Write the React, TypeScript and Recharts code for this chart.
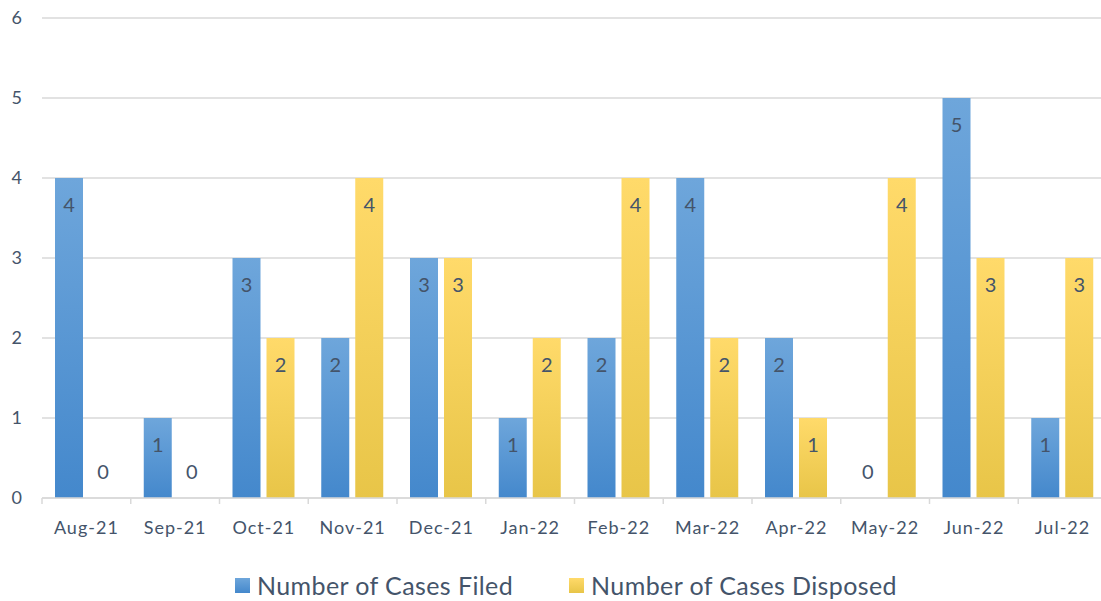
import { BarChart, Bar, XAxis, YAxis, CartesianGrid, Legend, LabelList, Rectangle } from 'recharts'

const months = ['Aug-21', 'Sep-21', 'Oct-21', 'Nov-21', 'Dec-21', 'Jan-22', 'Feb-22', 'Mar-22', 'Apr-22', 'May-22', 'Jun-22', 'Jul-22']
const filed = [4, 1, 3, 2, 3, 1, 2, 4, 2, 0, 5, 1]
const disposed = [0, 0, 2, 4, 3, 2, 4, 2, 1, 4, 3, 3]
const yTicks = [0, 1, 2, 3, 4, 5, 6]

const data = months.map((m, i) => ({ month: m, filed: filed[i], disposed: disposed[i] }))

const TEXT = '#44546A'
const FONT = 'Lato, "Open Sans", sans-serif'
const CHART_W = 1110
const LEFT = 42
const RIGHT_M = 3
const STEP = (CHART_W - LEFT - RIGHT_M) / months.length

const MonthTick = (props: any) => {
  const { x, y, payload, index } = props
  const left = x - STEP / 2
  return (
    <g>
      <line x1={left} y1={y - 8} x2={left} y2={y - 2} stroke="#D9D9D9" strokeWidth={1.5} />
      {index === months.length - 1 && (
        <line x1={x + STEP / 2} y1={y - 8} x2={x + STEP / 2} y2={y - 2} stroke="#D9D9D9" strokeWidth={1.5} />
      )}
      <text x={x} y={y + 21} textAnchor="middle" dominantBaseline="central" fill={TEXT} fontSize={18} letterSpacing={1} fontFamily={FONT}>
        {payload.value}
      </text>
    </g>
  )
}

// zero-value bars get 1px via minPointSize so the label still renders; don't paint them
const BarShape = (props: any) => {
  if (props.height <= 1.5) return null
  return <Rectangle {...props} />
}

const barLabel = (props: any) => {
  const { x, y, width, height, value } = props
  const cy = height > 1.5 ? y + 25.5 : y + height - 27
  return (
    <text x={x + width / 2} y={cy} dominantBaseline="central" textAnchor="middle" fill={TEXT} fontSize={20} fontFamily={FONT}>
      {value}
    </text>
  )
}

const LegendBox = () => (
  <div style={{ display: 'flex', justifyContent: 'center', gap: 56, height: 32, lineHeight: '28px', alignItems: 'center', fontFamily: FONT, fontSize: 25, letterSpacing: 0.4, color: TEXT, paddingLeft: 25, boxSizing: 'border-box' }}>
    <span style={{ display: 'flex', alignItems: 'center' }}>
      <span style={{ width: 15, height: 15, marginRight: 7, background: 'linear-gradient(#6EA6DB, #4488CC)' }} />
      Number of Cases Filed
    </span>
    <span style={{ display: 'flex', alignItems: 'center' }}>
      <span style={{ width: 15, height: 15, marginRight: 7, background: 'linear-gradient(#FFDA6A, #E8C548)' }} />
      Number of Cases Disposed
    </span>
  </div>
)

export default function App() {
  return (
    <div style={{ position: 'absolute', left: 0, top: 0, width: 1101, height: 601, overflow: 'hidden', background: '#fff' }}>
      <BarChart
        width={CHART_W}
        height={601}
        data={data}
        margin={{ top: 18, right: RIGHT_M, bottom: 0, left: 0 }}
        barCategoryGap={13}
        barGap={6}
      >
        <defs>
          <linearGradient id="blueGrad" x1="0" y1="0" x2="0" y2="1">
            <stop offset="0%" stopColor="#6EA6DB" />
            <stop offset="100%" stopColor="#4488CC" />
          </linearGradient>
          <linearGradient id="yellowGrad" x1="0" y1="0" x2="0" y2="1">
            <stop offset="0%" stopColor="#FFDA6A" />
            <stop offset="100%" stopColor="#E8C548" />
          </linearGradient>
        </defs>
        <CartesianGrid vertical={false} stroke="#D9D9D9" strokeWidth={1.5} />
        <XAxis
          dataKey="month"
          tick={<MonthTick />}
          tickLine={false}
          axisLine={{ stroke: '#D9D9D9', strokeWidth: 1.5 }}
          height={71}
          interval={0}
        />
        <YAxis
          domain={[0, 6]}
          ticks={yTicks}
          width={LEFT}
          axisLine={false}
          tickLine={false}
          tickSize={0}
          tickMargin={20}
          tick={{ fill: TEXT, fontSize: 18, fontFamily: FONT }}
          interval={0}
        />
        <Legend verticalAlign="bottom" content={<LegendBox />} />
        <Bar dataKey="filed" name="Number of Cases Filed" fill="url(#blueGrad)" minPointSize={1} shape={<BarShape />} isAnimationActive={false}>
          <LabelList dataKey="filed" content={barLabel} />
        </Bar>
        <Bar dataKey="disposed" name="Number of Cases Disposed" fill="url(#yellowGrad)" minPointSize={1} shape={<BarShape />} isAnimationActive={false}>
          <LabelList dataKey="disposed" content={barLabel} />
        </Bar>
      </BarChart>
    </div>
  )
}
